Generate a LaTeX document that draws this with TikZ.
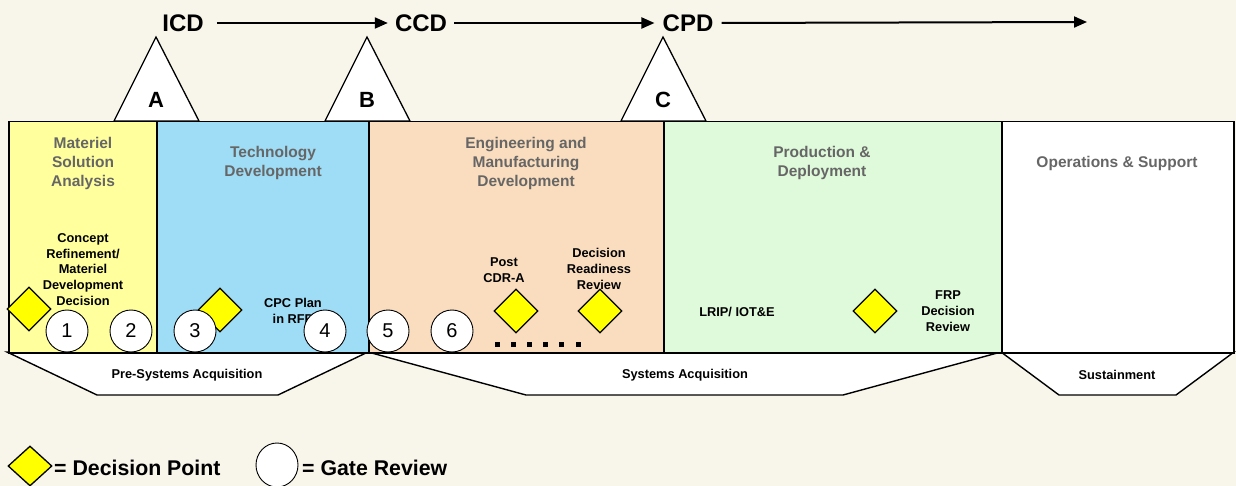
\documentclass[tikz,border=0pt]{standalone}
\usepackage{fontspec}
\setmainfont{Liberation Sans}
\usetikzlibrary{arrows.meta,shapes.geometric}
\definecolor{bgc}{HTML}{F8F5EA}
\definecolor{msac}{HTML}{FFFF9E}
\definecolor{tdc}{HTML}{9FDCF5}
\definecolor{emdc}{HTML}{FADDBE}
\definecolor{pdc}{HTML}{DFFADA}
\definecolor{grayt}{HTML}{666666}
\definecolor{dyel}{HTML}{FFFF00}
\tikzset{
  phasebox/.style={draw=black, line width=1.5pt, anchor=north west, inner sep=0pt, minimum height=231pt},
  phasetitle/.style={text=grayt, align=center, font=\bfseries\fontsize{15.5}{19}\selectfont},
  note/.style={text=black, align=center, font=\bfseries\fontsize{12.8}{15.7}\selectfont},
  bottomlbl/.style={text=black, font=\bfseries\fontsize{12.8}{15}\selectfont},
  milestone/.style={text=black, font=\bfseries\fontsize{24}{28}\selectfont, inner sep=0pt},
  gateletter/.style={text=black, font=\bfseries\fontsize{22}{26}\selectfont},
  gatetri/.style={draw=black, fill=white, line width=1.3pt, line join=miter},
  trap/.style={draw=black, fill=white, line width=1.4pt},
  decision/.style={diamond, draw=black, fill=dyel, line width=1.3pt, minimum width=44pt, minimum height=44pt, inner sep=0pt},
  gatereview/.style={circle, draw=black, fill=white, line width=0.9pt, minimum size=42pt, inner sep=0pt, font=\fontsize{20}{24}\selectfont},
  flow/.style={line width=2pt, -{Triangle[length=13pt,width=11pt]}},
  legendtxt/.style={text=black, anchor=west, font=\bfseries\fontsize{21.3}{25}\selectfont, inner sep=0pt}
}
\begin{document}
\begin{tikzpicture}[x=1pt, y=-1pt]
\useasboundingbox (0,0) rectangle (1236,486);
\fill[bgc] (0,0) rectangle (1236,486);

% milestones and arrows
\node[milestone] (icd) at (183,23) {ICD};
\node[milestone] (ccd) at (421,23) {CCD};
\node[milestone] (cpd) at (688,23) {CPD};
\coordinate (fut) at (1087,22);
\draw[flow, shorten <=13pt, shorten >=7pt] (icd.east) -- (ccd.west);
\draw[flow, shorten <=7pt, shorten >=8pt] (ccd.east) -- (cpd.west);
\draw[flow, shorten <=8pt] (cpd.east) -- (fut);

% gate triangles
\draw[gatetri] (114,121) -- (156,37) -- (199,121) -- cycle;
\draw[gatetri] (325,121) -- (367,37) -- (410,121) -- cycle;
\draw[gatetri] (621,121) -- (663,37) -- (706,121) -- cycle;
\node[gateletter] (ga) at (156,100) {A};
\node[gateletter] (gb) at (367,100) {B};
\node[gateletter] (gc) at (663,100) {C};

% bottom trapezoids
\draw[trap] (7,352) -- (97,395) -- (278,395) -- (368,352) -- cycle;
\draw[trap] (368,352) -- (526,395) -- (843,395) -- (1001,352) -- cycle;
\draw[trap] (1001,352) -- (1059,395) -- (1176,395) -- (1234,352) -- cycle;
\node[bottomlbl] (pre) at (187,375) {Pre-Systems Acquisition};
\node[bottomlbl] (sys) at (685,375) {Systems Acquisition};
\node[bottomlbl] (sus) at (1117,375) {Sustainment};

% phase boxes
\node[phasebox, fill=msac, minimum width=148pt] (msa) at (8,121) {};
\node[phasebox, fill=tdc, minimum width=212pt] (td) at (156,121) {};
\node[phasebox, fill=emdc, minimum width=295pt] (emd) at (368,121) {};
\node[phasebox, fill=pdc, minimum width=338pt] (pd) at (663,121) {};
\node[phasebox, fill=white, minimum width=232pt] (os) at (1001,121) {};

% phase titles
\node[phasetitle] (tmsa) at (83,163) {Materiel\\Solution\\Analysis};
\node[phasetitle] (ttd) at (273,163) {Technology\\Development};
\node[phasetitle] (temd) at (526,163) {Engineering and\\Manufacturing\\Development};
\node[phasetitle] (tpd) at (822,163) {Production \&\\Deployment};
\node[phasetitle] (tos) at (1117,163) {Operations \& Support};

% notes
\node[note] (ncr) at (83,269.5) {Concept\\Refinement/\\Materiel\\Development\\Decision};
\node[note] (ncpc) at (293,311) {CPC Plan\\in RFP};
\node[note] (npost) at (504,270) {Post\\CDR-A};
\node[note] (ndrr) at (599,269) {Decision\\Readiness\\Review};
\node[note] (nlrip) at (737,312) {LRIP/ IOT\&E};
\node[note] (nfrp) at (948,311) {FRP\\Decision\\Review};

% decision points
\node[decision] (d1) at (29,309) {};
\node[decision] (d2) at (220,310) {};
\node[decision] (d3) at (516,311) {};
\node[decision] (d4) at (600,311) {};
\node[decision] (d5) at (875,311) {};

% gate reviews
\node[gatereview] (g1) at (67,331) {1};
\node[gatereview] (g2) at (131,331) {2};
\node[gatereview] (g3) at (195,331) {3};
\node[gatereview] (g4) at (325,331) {4};
\node[gatereview] (g5) at (388,331) {5};
\node[gatereview] (g6) at (452,331) {6};

% dots
\foreach \i in {0,...,5} {
  \fill[black] ({497+16.2*\i-2.5},341.5) rectangle ++(5,5);
}

% legend
\node[decision, minimum width=44pt, minimum height=40pt] (ld) at (30,466) {};
\node[legendtxt] (ldt) at (54,468) {= Decision Point};
\node[ellipse, draw=black, fill=white, line width=0.9pt, minimum width=42pt, minimum height=44pt, inner sep=0pt] (lg) at (277,465) {};
\node[legendtxt] (lgt) at (302,468) {= Gate Review};
\end{tikzpicture}
\end{document}
